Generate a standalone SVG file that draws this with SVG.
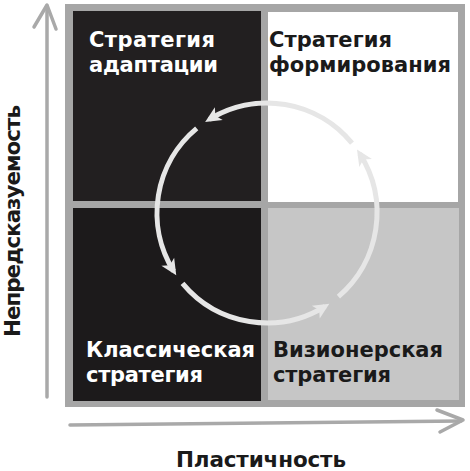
<svg xmlns="http://www.w3.org/2000/svg" width="470" height="471" viewBox="0 0 470 471">
<style>
.lbl{font-family:"DejaVu Sans","Liberation Sans",Arial,sans-serif;font-weight:bold;font-size:21px}
.ax{font-size:21.5px}
.w{fill:#ffffff}
.k{fill:#1a1a1a}
.axis{fill:none;stroke:#a9a9a9;stroke-width:3.5;stroke-linecap:round;stroke-linejoin:round}
.cyc{fill:none;stroke:#e6e6e6;stroke-width:5}
</style>
<defs>
<marker id="ah" markerUnits="userSpaceOnUse" markerWidth="30" markerHeight="30" viewBox="-15 -15 30 30" refX="0" refY="0" orient="auto">
<path d="M5,0 L-11,-7.5 L-7,0 L-11,7.5 Z" fill="#e6e6e6"/>
</marker>
</defs>
<rect width="470" height="471" fill="#ffffff"/>
<g id="frame">
<rect x="65" y="4" width="400" height="403" fill="#a6a6a6"/>
</g>
<g id="adaptation">
<rect x="73" y="11" width="188" height="190" fill="#221f20"/>
<text class="lbl w" x="89" y="47" textLength="126">Стратегия</text>
<text class="lbl w" x="89" y="72" textLength="129">адаптации</text>
</g>
<g id="shaping">
<rect x="268" y="12" width="190" height="190" fill="#ffffff"/>
<text class="lbl k" x="269" y="47" textLength="123">Стратегия</text>
<text class="lbl k" x="269" y="72" textLength="182">формирования</text>
</g>
<g id="classical">
<rect x="73" y="208" width="188" height="193" fill="#1c1a1b"/>
<text class="lbl w" x="86" y="357" textLength="169">Классическая</text>
<text class="lbl w" x="86" y="382" textLength="117">стратегия</text>
</g>
<g id="visionary">
<rect x="268" y="208" width="191" height="192" fill="#c6c6c6"/>
<text class="lbl k" x="273" y="357" textLength="170">Визионерская</text>
<text class="lbl k" x="273" y="382" textLength="118">стратегия</text>
</g>
<g id="connectors">
<path class="cyc" d="M352,143.2 A110,110 0 0 0 209.4,119.3" marker-end="url(#ah)"/>
<path class="cyc" d="M196.7,128.4 A110,110 0 0 0 173.6,271.1" marker-end="url(#ah)"/>
<path class="cyc" d="M182.5,283.4 A110,110 0 0 0 325.1,306.4" marker-end="url(#ah)"/>
<path class="cyc" d="M338.4,296.6 A110,110 0 0 0 359.7,153.7" marker-end="url(#ah)"/>
</g>
<g id="axes">
<path class="axis" d="M47,6 L47,397"/>
<path class="axis" d="M34,27 L47,5 L56,29"/>
<path class="axis" d="M70,425 L461,421"/>
<path class="axis" d="M437,410 L463,420 L440,432"/>
<text class="lbl ax k" transform="translate(20,221) rotate(-90)" text-anchor="middle" textLength="232">Непредсказуемость</text>
<text class="lbl ax k" x="176" y="467" textLength="170">Пластичность</text>
</g>
</svg>
